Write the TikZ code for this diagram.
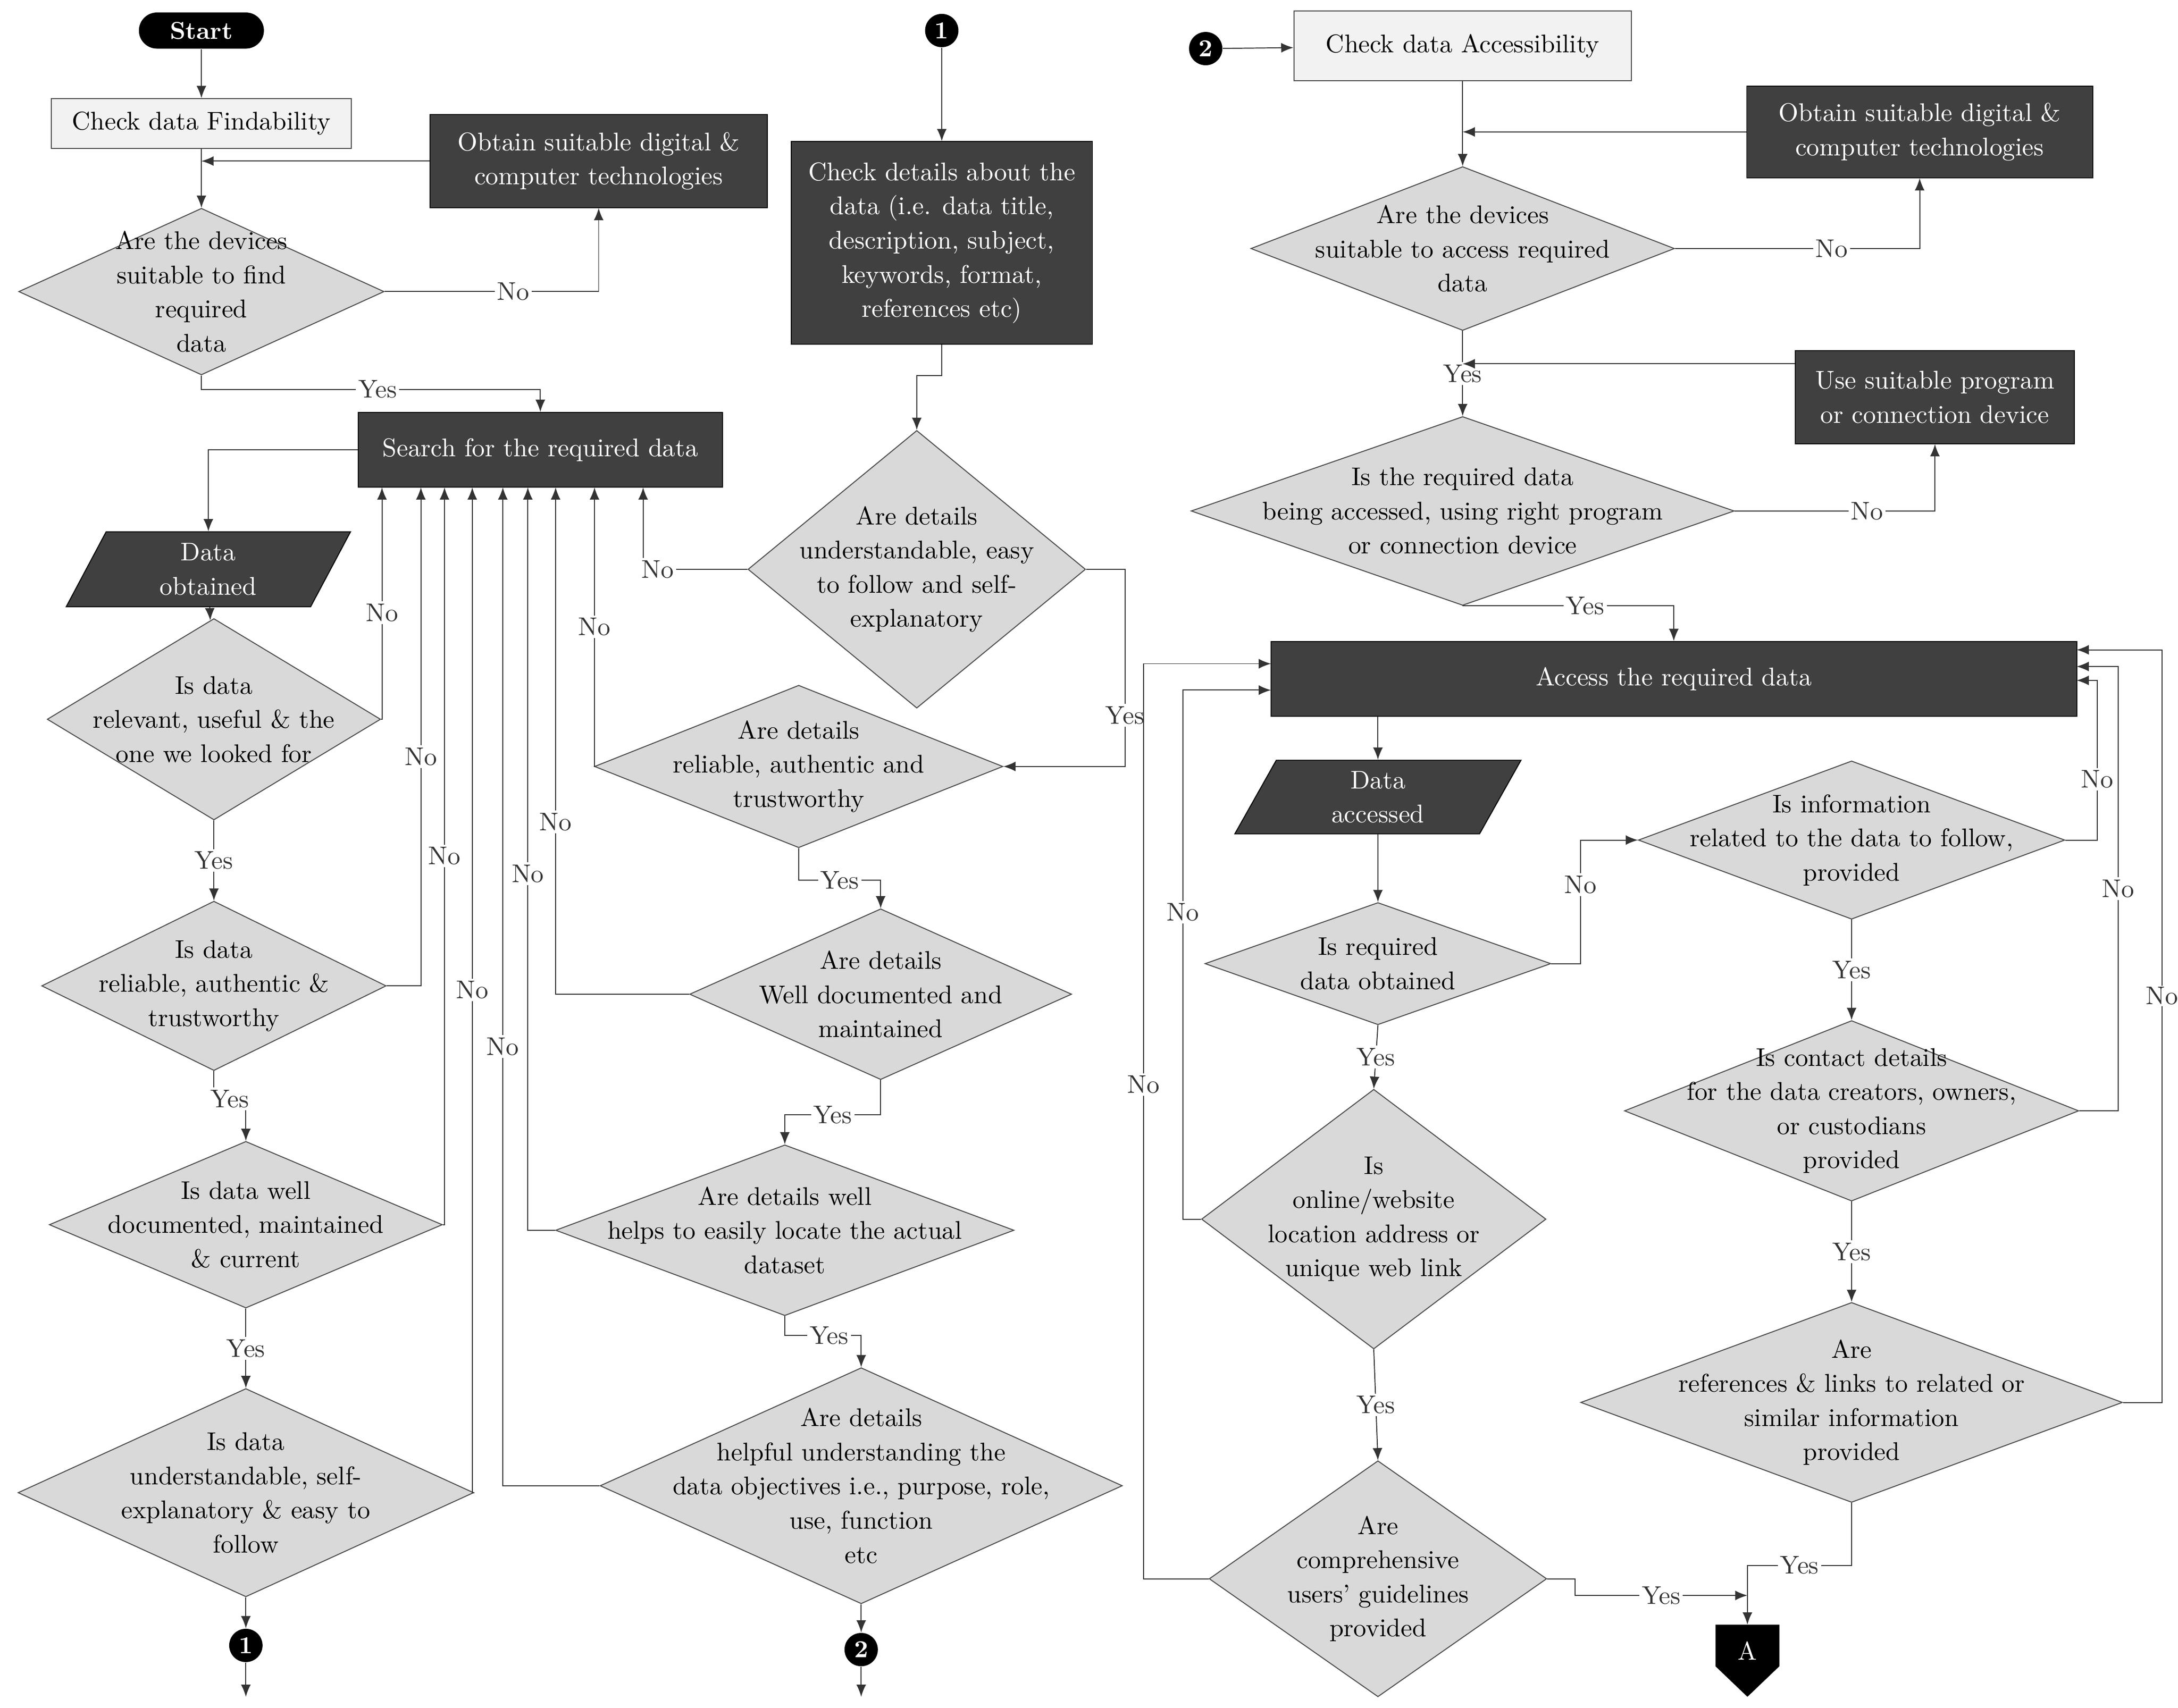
\documentclass[tikz,border=0pt]{standalone}
\usepackage{xcolor}
\usepackage{tikz}
\usetikzlibrary{arrows.meta,shapes.geometric}
\definecolor{boxdark}{HTML}{404040}
\definecolor{boxlight}{HTML}{F2F2F2}
\definecolor{diafill}{HTML}{D9D9D9}
\def\pxu{0.02cm}
\tikzset{
  every node/.style={font=\fontsize{10.5}{14}\selectfont, align=center},
  dark/.style={draw=black, fill=boxdark, text=white, inner sep=0pt},
  light/.style={draw=black!70, fill=boxlight, inner sep=0pt},
  dia/.style={diamond, draw=black!70, fill=diafill, inner sep=0pt},
  para/.style={trapezium, trapezium left angle=70, trapezium right angle=110, trapezium stretches=true, draw=black, fill=boxdark, text=white, inner sep=0pt},
  dot/.style={circle, fill=black, text=white, inner sep=0pt, minimum size=24*\pxu, font=\bfseries\fontsize{10}{12}\selectfont},
  arr/.style={-{Latex[length=5pt,width=4pt]}, black!80},
  lbl/.style={fill=white, inner sep=1pt},
}
\newcommand{\dia}[6]{%
  \node[dia, minimum width=#4*\pxu, minimum height=#5*\pxu] (#1) at (#2,#3) {};
  \node (#1t) at (#1) {#6};}
\begin{document}
\begin{tikzpicture}[x=\pxu, y=-\pxu]
  \useasboundingbox (0,0) rectangle (1568,1230);
  % left column
  \node[fill=black, text=white, rounded corners=13*\pxu, minimum width=90*\pxu, minimum height=26*\pxu, inner sep=0pt, font=\bfseries\fontsize{10}{12}\selectfont] (start) at (145,22) {Start};
  \node[light, minimum width=216*\pxu, minimum height=36*\pxu] (find) at (145,89) {Check data Findability};
  \node[dark, minimum width=243*\pxu, minimum height=67*\pxu] (ob1) at (431,116) {Obtain suitable digital \&\\computer technologies};
  \dia{d1}{145}{210}{263}{120}{Are the devices\\suitable to find\\required\\data}
  \node[dark, minimum width=262*\pxu, minimum height=54*\pxu] (srch) at (389,324) {Search for the required data};
  \node[para, minimum width=205*\pxu, minimum height=54*\pxu] (dob) at (150,410) {Data\\obtained};
  \dia{d2}{154}{518}{240}{145}{Is data\\relevant, useful \& the\\one we looked for}
  \dia{d3}{154}{710}{248}{122}{Is data\\reliable, authentic \&\\trustworthy}
  \dia{d4}{177}{882}{283}{120}{Is data well\\documented, maintained\\\& current}
  \dia{d5}{177}{1075}{328}{150}{Is data\\understandable, self-\\explanatory \& easy to\\follow}
  \node[dot] (c1b) at (177,1185) {1};
  \coordinate (e1) at (177,1222);
  % middle column
  \node[dot] (c1t) at (678,22) {1};
  \node[dark, minimum width=217*\pxu, minimum height=146*\pxu] (chk) at (678,175) {Check details about the\\data (i.e. data title,\\description, subject,\\keywords, format,\\references etc)};
  \dia{d6}{660}{410}{243}{200}{Are details\\understandable, easy\\to follow and self-\\explanatory}
  \dia{d7}{575}{552}{294}{117}{Are details\\reliable, authentic and\\trustworthy}
  \dia{d8}{634}{716}{275}{123}{Are details\\Well documented and\\maintained}
  \dia{d9}{565}{886}{330}{123}{Are details well\\helps to easily locate the actual\\dataset}
  \dia{d10}{620}{1070}{376}{170}{Are details\\helpful understanding the\\data objectives i.e., purpose, role,\\use, function\\etc}
  \node[dot] (c2b) at (620,1188) {2};
  \coordinate (e2) at (620,1222);
  % right column
  \node[dot] (c2t) at (868,35) {2};
  \node[light, minimum width=243*\pxu, minimum height=50*\pxu] (acc) at (1053,33) {Check data Accessibility};
  \node[dark, minimum width=249*\pxu, minimum height=66*\pxu] (ob2) at (1382,95) {Obtain suitable digital \&\\computer technologies};
  \dia{d11}{1053}{179}{305}{118}{Are the devices\\suitable to access required\\data}
  \node[dark, minimum width=201*\pxu, minimum height=67*\pxu] (use) at (1393,286) {Use suitable program\\or connection device};
  \dia{d12}{1053}{368}{391}{136}{Is the required data\\being accessed, using right program\\or connection device}
  \node[dark, minimum width=580*\pxu, minimum height=54*\pxu] (axs) at (1205,489) {Access the required data};
  \node[para, minimum width=207*\pxu, minimum height=53*\pxu] (dac) at (992,574) {Data\\accessed};
  \dia{d13}{992}{694}{249}{88}{Is required\\data obtained}
  \dia{d14}{989}{878}{248}{187}{Is\\online/website\\location address or\\unique web link}
  \dia{d15}{992}{1137}{243}{170}{Are\\comprehensive\\users' guidelines\\provided}
  \dia{d16}{1333}{605}{307}{114}{Is information\\related to the data to follow,\\provided}
  \dia{d17}{1333}{800}{327}{130}{Is contact details\\for the data creators, owners,\\or custodians\\provided}
  \dia{d18}{1333}{1010}{390}{144}{Are\\references \& links to related or\\similar information\\provided}
  \fill[black] (1235,1170) -- (1281,1170) -- (1281,1200) -- (1258,1222) -- (1235,1200) -- cycle;
  \node[text=white] (offA) at (1258,1189) {A};
  \coordinate (atop) at (1258,1170);
  \coordinate (jA) at (1258,1149);
  % entry points
  \coordinate (j1) at (145,116);
  \coordinate (j2) at (1053,95);
  \coordinate (j3) at (1053,262);
  \foreach \xs [count=\i] in {275,303,320,340,362,380,400,428,463}
    \coordinate (s\i) at (\xs,351);
  \coordinate (a1) at (915,478);
  \coordinate (a2) at (915,497);
  \coordinate (b1) at (1495,468);
  \coordinate (b2) at (1495,480);
  \coordinate (b3) at (1495,490);
  % connectors left
  \draw[arr] (start) -- (find);
  \draw[arr] (find) -- (d1);
  \draw[arr] (ob1.west) -- (j1);
  \draw[arr] (d1.east) -| node[lbl,pos=.3]{No} (ob1.south);
  \draw[arr] (d1.south) -- ++(0,10) -| node[lbl,pos=.26]{Yes} (srch.north);
  \draw[arr] (srch.west) -| (dob.north);
  \draw[arr] (dob) -- (d2);
  \draw[arr] (d2.south) -- node[lbl]{Yes} (d3.north);
  \draw[arr] (d3.south) -- ++(0,20) -| node[lbl,pos=.25]{Yes} (d4.north);
  \draw[arr] (d4.south) -- node[lbl]{Yes} (d5.north);
  \draw[arr] (d5.south) -- (c1b);
  \draw[arr] (c1b.south) -- (e1);
  \draw[arr] (d2.east) -| node[lbl,pos=.73]{No} (s1);
  \draw[arr] (d3.east) -| node[lbl,pos=.73]{No} (s2);
  \draw[arr] (d4.east) -| node[lbl,pos=.75]{No} (s3);
  \draw[arr] (d5.east) -| node[lbl,pos=.75]{No} (s4);
  \draw[arr] (d10.west) -| node[lbl,pos=.72]{No} (s5);
  \draw[arr] (d9.west) -| node[lbl,pos=.74]{No} (s6);
  \draw[arr] (d8.west) -| node[lbl,pos=.67]{No} (s7);
  \draw[arr] (d7.west) -| node[lbl,pos=.75]{No} (s8);
  \draw[arr] (d6.west) -| node[lbl,pos=.43]{No} (s9);
  % connectors middle
  \draw[arr] (c1t) -- (chk);
  \draw[arr] (chk.south) -- ++(0,22) -| (d6.north);
  \draw[arr] (d6.east) -- ++(28,0) |- node[lbl,pos=.37]{Yes} (d7.east);
  \draw[arr] (d7.south) -- ++(0,23) -| node[lbl,pos=.25]{Yes} (d8.north);
  \draw[arr] (d8.south) -- ++(0,25) -| node[lbl,pos=.25]{Yes} (d9.north);
  \draw[arr] (d9.south) -- ++(0,14) -| node[lbl,pos=.29]{Yes} (d10.north);
  \draw[arr] (d10.south) -- (c2b);
  \draw[arr] (c2b.south) -- (e2);
  % connectors right
  \draw[arr] (c2t) -- (acc);
  \draw[arr] (acc) -- (d11);
  \draw[arr] (ob2.west) -- (j2);
  \draw[arr] (d11.east) -| node[lbl,pos=.32]{No} (ob2.south);
  \draw[arr] (d11.south) -- node[lbl]{Yes} (d12.north);
  \draw[arr] (use.west |- j3) -- (j3);
  \draw[arr] (d12.east) -| node[lbl,pos=.33]{No} (use.south);
  \draw[arr] (d12.south) -| node[lbl,pos=.29]{Yes} (axs.north);
  \draw[arr] (axs.south -| dac.north) -- (dac.north);
  \draw[arr] (dac) -- (d13);
  \draw[arr] (d13.east) -- ++(21,0) |- node[lbl,pos=.32]{No} (d16.west);
  \draw[arr] (d13.south) -- node[lbl]{Yes} (d14.north);
  \draw[arr] (d14.west) -- ++(-13,0) |- node[lbl,pos=.29]{No} (a2);
  \draw[arr] (d15.west) -- ++(-47,0) |- node[lbl,pos=.27]{No} (a1);
  \draw[arr] (d14.south) -- node[lbl]{Yes} (d15.north);
  \draw[arr] (d15.east) -- ++(20,0) -- ++(0,12) -- node[lbl]{Yes} (jA);
  \draw[arr] (d18.south) -- ++(0,45) -| node[lbl,pos=.25]{Yes} (atop);
  \draw[arr] (d16.east) -- ++(23,0) |- node[lbl,pos=.19]{No} (b3);
  \draw[arr] (d17.east) -- ++(28,0) |- node[lbl,pos=.25]{No} (b2);
  \draw[arr] (d18.east) -- ++(28,0) |- node[lbl,pos=.27,inner sep=0.5pt]{No} (b1);
  \draw[arr] (d16.south) -- node[lbl]{Yes} (d17.north);
  \draw[arr] (d17.south) -- node[lbl]{Yes} (d18.north);
\end{tikzpicture}
\end{document}
